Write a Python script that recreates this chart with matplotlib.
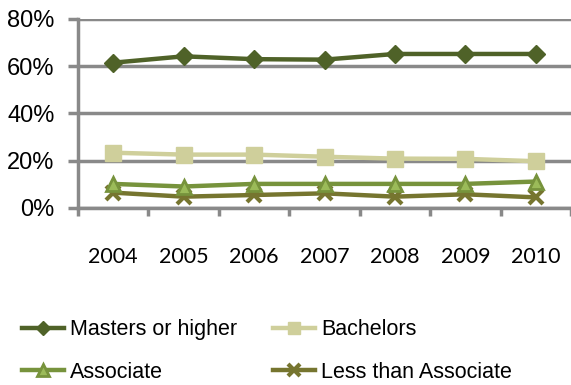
import matplotlib
matplotlib.use("Agg")
import matplotlib.pyplot as plt
from matplotlib.ticker import FixedLocator, PercentFormatter

years = ["2004", "2005", "2006", "2007", "2008", "2009", "2010"]
masters = [61.5, 64.2, 63.0, 62.8, 65.2, 65.2, 65.2]
bachelors = [23.4, 22.6, 22.6, 21.7, 20.9, 20.8, 19.8]
associate = [10.2, 9.1, 10.2, 10.2, 10.2, 10.2, 11.2]
less_than = [6.5, 4.8, 5.5, 6.2, 4.8, 5.8, 4.5]

series_names = ["Masters or higher", "Bachelors", "Associate", "Less than Associate"]

grey = "#898989"

fig = plt.figure(figsize=(5.71, 3.85), dpi=100)
ax = fig.add_axes([78 / 571, 1 - 208 / 385, 493 / 571, 189 / 385])

x = range(len(years))
lw = 3.2
h1, = ax.plot(x, masters, color="#4F6228", lw=lw, marker="D", ms=9,
              mec="#4F6228", mfc="#4F6228", label=series_names[0], zorder=5)
h2, = ax.plot(x, bachelors, color="#CFCF9B", lw=lw, marker="s", ms=11,
              mec="#CFCF9B", mfc="#CFCF9B", label=series_names[1], zorder=4)
h3, = ax.plot(x, associate, color="#77933C", lw=lw, marker="^", ms=10,
              mec="#77933C", mfc="#9BBB59", mew=2, label=series_names[2], zorder=3)
h4, = ax.plot(x, less_than, color="#76752F", lw=lw, marker="x", ms=10,
              mec="#76752F", mew=3, label=series_names[3], zorder=2)

ax.set_xlim(-0.5, len(years) - 0.5)
ax.set_ylim(0, 80)
ax.set_yticks([0, 20, 40, 60, 80])
ax.yaxis.set_major_formatter(PercentFormatter(decimals=0))
ax.yaxis.grid(True, color=grey, lw=2.5)
ax.set_axisbelow(True)

ax.set_xticks(list(x))
ax.set_xticklabels(years, fontfamily="Lato", fontsize=15.5)
ax.xaxis.set_minor_locator(FixedLocator([i - 0.5 for i in range(len(years) + 1)]))
ax.tick_params(axis="x", which="major", length=0, pad=28)
ax.tick_params(axis="x", which="minor", length=6, width=2.5, color=grey)
ax.tick_params(axis="y", length=7, width=2.5, color=grey, pad=10)
for lab in ax.get_yticklabels():
    lab.set_fontfamily("Liberation Sans")
    lab.set_fontsize(17)

for side in ["top", "right"]:
    ax.spines[side].set_visible(False)
for side in ["left", "bottom"]:
    ax.spines[side].set_color(grey)
    ax.spines[side].set_linewidth(2.5)

# legend fills column-wise, so order handles to read row by row
leg = fig.legend([h1, h3, h2, h4],
                 [series_names[0], series_names[2], series_names[1], series_names[3]],
                 loc="upper left", bbox_to_anchor=(3 / 571, 1 - 300 / 385),
                 ncol=2, frameon=False, prop={"family": "Liberation Sans", "size": 15.5},
                 handlelength=1.95, handletextpad=0.25, columnspacing=1.7,
                 labelspacing=1.0, markerscale=0.8)

fig.savefig("out.png", dpi=100)
